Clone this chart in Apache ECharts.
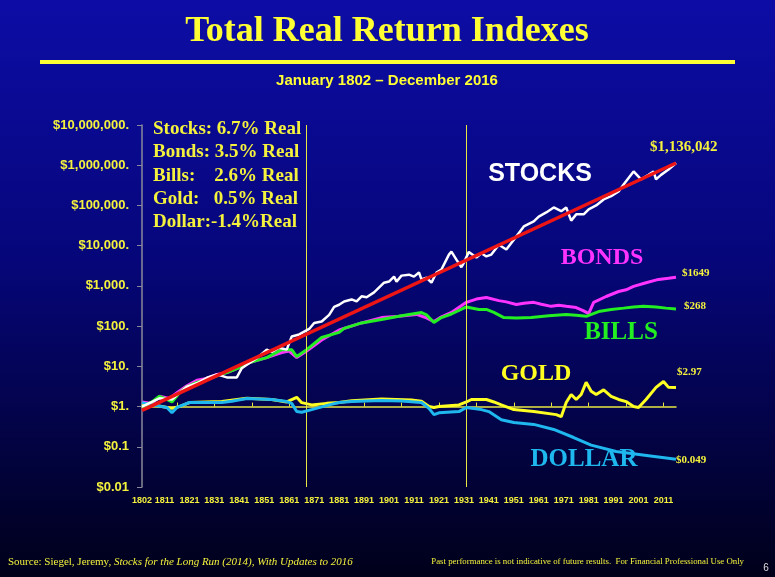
<!DOCTYPE html>
<html>
<head>
<meta charset="UTF-8">
<title>Total Real Return Indexes</title>
<script src="https://cdn.jsdelivr.net/npm/echarts@6/dist/echarts.min.js"></script>
<style>
  html, body { margin: 0; padding: 0; }
  #main { width: 775px; height: 577px; }
</style>
</head>
<body>
<div id="main"></div>
<script>
// values: [year, index value in real dollars]
var stocks = [[1802,1],[1806,1.3],[1809,1.6],[1814,1.5],[1817,2.2],[1820,3.1],[1824,3.8],[1828,5.2],
  [1832,6.3],[1836,5.3],[1840,5.3],[1842,9],[1844,11],[1848,16],[1852,26],[1854,23],[1857,29],[1860,26],
  [1862,55],[1865,62],[1869,85],[1871,120],[1874,130],[1877,190],[1879,300],[1881,340],[1883,410],
  [1886,460],[1888,410],[1890,550],[1892,520],[1895,690],[1899,1200],[1901,1280],[1903,1700],[1904,1280],
  [1906,1800],[1909,1900],[1911,1700],[1913,2150],[1914,1450],[1916,1600],[1918,1200],[1920,2150],
  [1922,2560],[1925,6000],[1926,7100],[1928,4500],[1930,2900],[1931,3800],[1933,7000],[1936,5100],
  [1938,6500],[1940,5400],[1942,6000],[1945,10500],[1948,8000],[1952,17000],[1955,30000],[1959,40000],
  [1961,53000],[1964,67000],[1967,89000],[1970,72000],[1972,89000],[1974,42000],[1976,60000],[1979,60000],
  [1981,80000],[1984,100000],[1987,141000],[1990,170000],[1993,223000],[1995,330000],[1999,700000],
  [2002,445000],[2005,575000],[2007,700000],[2008,445000],[2010,575000],[2013,780000],[2016,1136042]];

var bonds = [[1802,1.3],[1806,1.2],[1809,1.8],[1813,1.6],[1816,2.2],[1820,3.3],[1824,4.5],[1828,5],
  [1832,6.3],[1836,7],[1841,9.3],[1845,12.4],[1852,16.5],[1858,22],[1861,24],[1864,16.5],[1868,24],
  [1874,45],[1881,80],[1890,120],[1898,163],[1905,175],[1912,195],[1916,160],[1919,130],[1922,170],
  [1926,218],[1932,390],[1936,470],[1940,515],[1945,430],[1948,400],[1952,345],[1955,370],[1959,390],
  [1962,350],[1966,310],[1969,330],[1972,310],[1976,290],[1979,240],[1981,205],[1983,390],[1988,545],
  [1993,725],[1996,800],[1999,970],[2004,1200],[2009,1450],[2013,1550],[2016,1649]];

var bills = [[1802,1],[1806,1.3],[1809,1.8],[1812,1.5],[1814,1.3],[1817,2.2],[1820,3.1],[1824,4],
  [1828,4.7],[1832,5.8],[1836,7],[1841,9.3],[1845,12.4],[1852,16.5],[1858,26],[1862,26],[1864,17.5],
  [1868,26],[1874,52],[1881,70],[1883,88],[1890,120],[1898,146],[1906,180],[1914,218],[1916,190],
  [1919,123],[1922,163],[1926,200],[1932,300],[1937,260],[1940,260],[1943,220],[1947,163],[1952,160],
  [1958,163],[1965,180],[1972,195],[1976,185],[1980,175],[1985,230],[1990,260],[1995,280],[1999,300],
  [2003,310],[2008,300],[2012,280],[2016,268]];

var gold = [[1802,1.2],[1806,1.1],[1810,1.0],[1814,0.9],[1817,1.0],[1821,1.26],[1834,1.33],[1844,1.6],
  [1854,1.5],[1860,1.3],[1864,1.7],[1866,1.25],[1870,1.1],[1876,1.2],[1881,1.26],[1886,1.4],[1898,1.55],
  [1910,1.45],[1914,1.35],[1917,1.0],[1919,0.95],[1921,1.0],[1929,1.1],[1932,1.3],[1934,1.5],[1940,1.5],
  [1943,1.3],[1946,1.1],[1951,0.84],[1959,0.75],[1968,0.63],[1970,0.56],[1972,1.26],[1974,2.0],[1976,1.5],
  [1978,2.0],[1980,4.0],[1982,2.4],[1984,2.0],[1987,2.6],[1990,1.8],[1993,1.5],[1996,1.33],[1999,1.0],
  [2001,0.95],[2004,1.5],[2008,3.0],[2011,4.2],[2013,3.0],[2016,2.97]];

var dollar = [[1802,1.25],[1806,1.1],[1812,0.95],[1814,0.7],[1816,0.95],[1821,1.26],[1834,1.26],
  [1838,1.35],[1844,1.58],[1854,1.5],[1860,1.33],[1862,1.2],[1864,0.75],[1866,0.72],[1870,0.84],
  [1877,1.1],[1881,1.26],[1886,1.33],[1898,1.42],[1906,1.38],[1914,1.26],[1917,0.9],[1919,0.63],
  [1921,0.7],[1929,0.75],[1932,0.95],[1938,0.84],[1941,0.75],[1946,0.47],[1951,0.4],[1959,0.36],
  [1967,0.27],[1975,0.17],[1982,0.11],[1992,0.076],[2005,0.06],[2016,0.049]];

// 6.7% real trend line
var trend = [[1802,0.8],[2016,1136042]];

var rates = ['Stocks: 6.7% Real', 'Bonds: 3.5% Real', 'Bills:    2.6% Real', 'Gold:   0.5% Real', 'Dollar:-1.4%Real'];
var markYears = ['1868', '1932'];

var years = [];
for (var y = 1802; y <= 2016; y++) years.push(String(y));

var toCat = function(arr) {
  return arr.map(function(p) { return [String(p[0]), p[1]]; });
};

var yellow = '#f4f23c';
var serif = '"Liberation Serif", "Times New Roman", serif';
var sans = '"Liberation Sans", Arial, sans-serif';

var gridLeft = 142, gridTop = 125, gridH = 362, gridRight = 99;

var yLabel = function(v) {
  var map = { 0.01: '$0.01', 0.1: '$0.1', 1: '$1.', 10: '$10.', 100: '$100.', 1000: '$1,000.',
    10000: '$10,000.', 100000: '$100,000.', 1000000: '$1,000,000.', 10000000: '$10,000,000.' };
  return map[v] || '';
};

var line = function(name, data, color, width, z, end) {
  var s = {
    name: name, type: 'line', data: toCat(data), showSymbol: false, z: z,
    lineStyle: { color: color, width: width }, silent: true
  };
  if (end) {
    s.endLabel = {
      show: true, formatter: end.text, color: yellow, fontFamily: serif,
      fontWeight: 'bold', fontSize: end.size, offset: end.offset
    };
  }
  return s;
};

var txt = function(x, y, text, color, font, size, align) {
  return {
    type: 'text', x: x, y: y, silent: true,
    style: { text: text, fill: color, font: 'bold ' + size + 'px ' + font,
      textAlign: align || 'center', textVerticalAlign: 'middle' }
  };
};

var graphics = [
  txt(387, 32, 'Total Real Return Indexes', '#ffff33', serif, 36),
  { type: 'rect', shape: { x: 40, y: 60, width: 695, height: 4 }, style: { fill: '#ffff33' }, silent: true },
  txt(387, 81, 'January 1802 \u2013 December 2016', '#ffff33', sans, 15),
  txt(540, 174, 'STOCKS', '#ffffff', sans, 25),
  txt(602, 258, 'BONDS', '#ff33ff', serif, 24),
  txt(621, 333, 'BILLS', '#22ee22', serif, 25),
  txt(536, 374, 'GOLD', '#ffff22', serif, 24),
  txt(584, 460, 'DOLLAR', '#1fb8ee', serif, 25),
  {
    type: 'text', x: 8, y: 562, silent: true,
    style: {
      text: '{n|Source: Siegel, Jeremy, }{i|Stocks for the Long Run (2014), With Updates to 2016}',
      textVerticalAlign: 'middle',
      rich: {
        n: { fill: yellow, font: '11px ' + serif },
        i: { fill: yellow, font: 'italic 11px ' + serif }
      }
    }
  },
  { type: 'text', x: 744, y: 562, silent: true,
    style: { text: 'Past performance is not indicative of future results.  For Financial Professional Use Only',
      fill: yellow, font: '8.8px ' + serif, textAlign: 'right', textVerticalAlign: 'middle' } },
  { type: 'text', x: 766, y: 568, silent: true,
    style: { text: '6', fill: '#dddddd', font: '10px ' + sans, textAlign: 'center', textVerticalAlign: 'middle' } }
];
rates.forEach(function(r, i) {
  graphics.push({
    type: 'text', x: 153, y: 129 + i * 23.3, silent: true,
    style: { text: r, fill: yellow, font: 'bold 19px ' + serif, textVerticalAlign: 'middle' }
  });
});

var chart = echarts.init(document.getElementById('main'));

var option = {
  animation: false,
  backgroundColor: {
    type: 'linear', x: 0, y: 0, x2: 0, y2: 1,
    colorStops: [
      { offset: 0, color: '#0d0da6' },
      { offset: 0.45, color: '#06067a' },
      { offset: 1, color: '#00001a' }
    ]
  },
  grid: [
    { left: gridLeft, right: gridRight, top: gridTop, height: gridH },
    // second grid ends on the $1 line so its x axis draws there
    { left: gridLeft, right: gridRight, top: gridTop, height: gridH * 7 / 9 }
  ],
  xAxis: [
    {
      type: 'category', data: years, boundaryGap: false, gridIndex: 0,
      axisLine: { show: false },
      axisTick: { show: false },
      axisLabel: {
        color: yellow, fontFamily: sans, fontWeight: 'bold', fontSize: 9, margin: 9,
        interval: function(i, v) { return v === '1802' || (Number(v) - 1801) % 10 === 0; }
      },
      splitLine: { show: false }
    },
    {
      type: 'category', data: years, boundaryGap: false, gridIndex: 1,
      axisLine: { lineStyle: { color: '#e8e640', width: 1.5 } },
      axisTick: {
        inside: true, length: 4, lineStyle: { color: '#e8e640' },
        interval: function(i, v) { return (Number(v) - 1801) % 15 === 0; }
      },
      axisLabel: { show: false },
      splitLine: { show: false }
    }
  ],
  yAxis: [
    {
      type: 'log', logBase: 10, min: 0.01, max: 10000000, gridIndex: 0,
      axisLine: { show: true, lineStyle: { color: '#8a8a9a', width: 1.5 } },
      axisTick: { show: true, length: 5, lineStyle: { color: '#8a8a9a' } },
      axisLabel: {
        color: yellow, fontFamily: sans, fontWeight: 'bold', fontSize: 13, margin: 13,
        formatter: yLabel
      },
      splitLine: { show: false }
    },
    {
      type: 'value', gridIndex: 1, show: false
    }
  ],
  series: [
    line('Bonds', bonds, '#ff33ff', 3, 2, { text: '$1649', size: 11, offset: [-2, -4] }),
    line('Bills', bills, '#22ee22', 3, 3, { text: '$268', size: 11, offset: [0, -3] }),
    line('Gold', gold, '#ffff22', 3, 4, { text: '$2.97', size: 11, offset: [-7, -15] }),
    line('Dollar', dollar, '#1fb8ee', 3, 5, { text: '$0.049', size: 11, offset: [-8, 1] }),
    line('Stocks', stocks, '#ffffff', 2.5, 6),
    Object.assign(line('Trend', trend, '#ee1515', 3.5, 7, { text: '$1,136,042', size: 15, offset: [-34, -16] }), {
      markLine: {
        silent: true, symbol: 'none', label: { show: false },
        lineStyle: { color: '#e8e640', width: 1, type: 'solid' },
        data: markYears.map(function(y) { return { xAxis: y }; })
      }
    })
  ],
  graphic: graphics
};

chart.setOption(option);
</script>
</body>
</html>
